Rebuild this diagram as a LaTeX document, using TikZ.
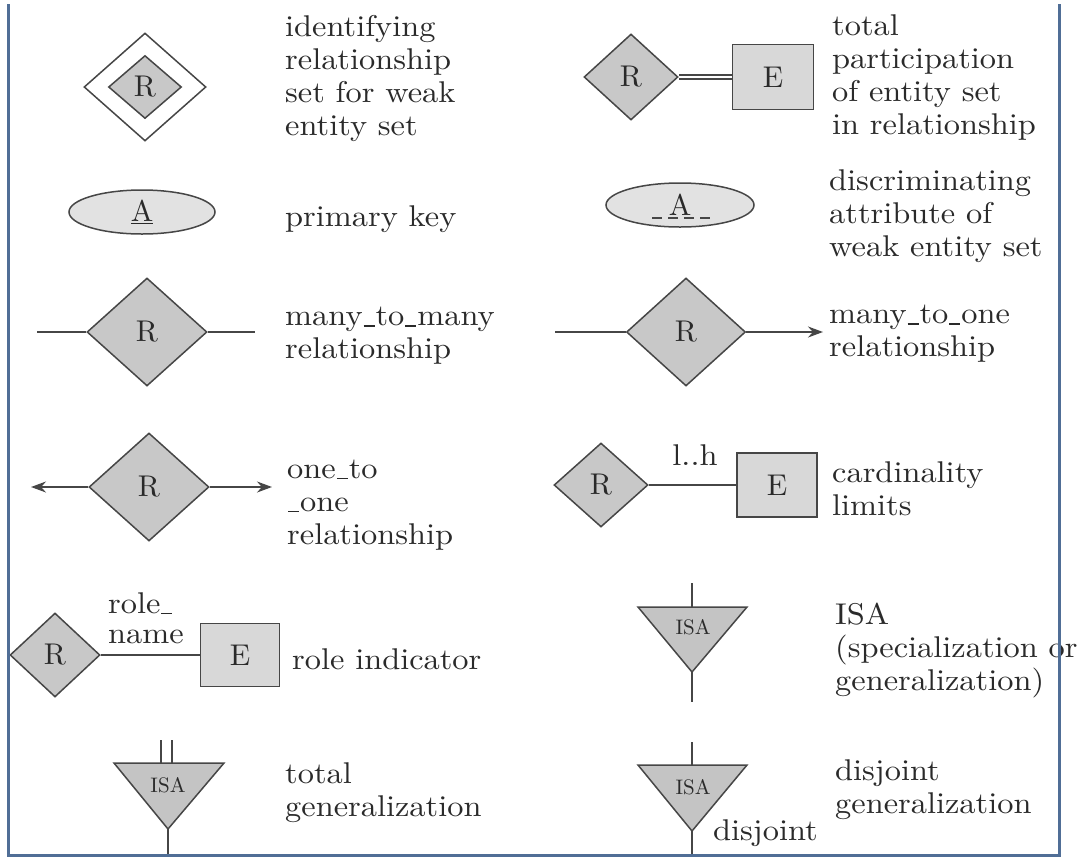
\documentclass[tikz,border=0pt]{standalone}
\usepackage{fontspec}
\setmainfont{lmroman10-regular}[Extension=.otf, FakeStretch=1.08]
\newfontfamily\plainlm{lmroman10-regular}[Extension=.otf]
\usetikzlibrary{shapes.geometric,arrows.meta}
% short baseline dash used in the relationship names
\newcommand{\lowdash}{\kern1pt\rule[-1pt]{11pt}{1.6pt}\kern1pt}
\definecolor{ink}{RGB}{42,42,42}
\definecolor{edge}{RGB}{70,70,70}
\definecolor{relfill}{RGB}{200,200,200}
\definecolor{entfill}{RGB}{216,216,216}
\definecolor{attrfill}{RGB}{226,226,226}
\definecolor{isafill}{RGB}{196,196,196}
\definecolor{framecol}{RGB}{80,110,150}
\tikzset{
  lbl/.style={font=\fontsize{30}{33}\selectfont, text=ink, inner sep=0pt, align=left, anchor=west},
  tag/.style={font=\fontsize{30}{33}\selectfont, text=ink, inner sep=0pt, align=left},
  rel/.style={diamond, draw=edge, fill=relfill, line width=1.5pt, inner sep=0pt,
              font=\plainlm\fontsize{30}{30}\selectfont, text=ink},
  ent/.style={rectangle, draw=edge, fill=entfill, line width=1.8pt, inner sep=0pt,
              font=\plainlm\fontsize{30}{30}\selectfont, text=ink},
  attr/.style={ellipse, draw=edge, fill=attrfill, line width=1.5pt, inner sep=0pt,
               font=\plainlm\fontsize{30}{30}\selectfont, text=ink},
  conn/.style={draw=edge, line width=1.5pt},
  tip/.style={-{Stealth[length=15pt,width=11pt]}},
  isatri/.style={draw=edge, fill=isafill, line width=1.5pt, line join=miter},
  isalbl/.style={font=\plainlm\fontsize{21}{21}\selectfont, text=ink, inner sep=0pt}
}
\begin{document}
\begin{tikzpicture}[x=1pt,y=-1pt]
\useasboundingbox (0,0) rectangle (1078,860);

% ---------- identifying relationship set ----------
\node[rel, fill=white, minimum width=122, minimum height=108] (idout) at (145,87) {};
\node[rel, minimum width=73, minimum height=63] (idin) at (145,87) {R};
\node[lbl] (idtxt) at (285,78) {identifying\\relationship\\set for weak\\entity set};

% ---------- primary key ----------
\node[attr, minimum width=146, minimum height=44] (pk) at (142,212) {\underline{A}};
\node[lbl] (pktxt) at (285,219) {primary key};

% ---------- many-to-many ----------
\node[rel, minimum width=120, minimum height=108] (mm) at (147,332) {R};
\coordinate (mmL) at (37,332);
\coordinate (mmR) at (255,332);
\draw[conn] (mmL) -- (mm.west);
\draw[conn] (mm.east) -- (mmR);
\node[lbl] (mmtxt) at (285,336) {many\lowdash to\lowdash many\\relationship};

% ---------- one-to-one ----------
\node[rel, minimum width=120, minimum height=108] (oo) at (149,487) {R};
\coordinate (ooL) at (31,487);
\coordinate (ooR) at (272,487);
\draw[conn, tip] (oo.west) -- (ooL);
\draw[conn, tip] (oo.east) -- (ooR);
\node[lbl] (ootxt) at (287,505) {one\lowdash to\\\lowdash one\\relationship};

% ---------- role indicator ----------
\node[rel, minimum width=90, minimum height=84] (ri) at (55,655) {R};
\node[ent, minimum width=79, minimum height=63] (riE) at (240,655) {E};
\draw[conn] (ri.east) -- (riE.west);
\node[lbl] (rolename) at (108,618) {role\lowdash\\[-3pt]name};
\node[lbl] (ritxt) at (292,659) {role indicator};

% ---------- total generalization ----------
\coordinate (tgTop) at (166.5,740);
\coordinate (tgMid) at (166.5,763);
\draw[conn, double, double distance=9.5pt] (tgTop) -- (tgMid);
\coordinate (tgA) at (114,763);
\coordinate (tgB) at (224,763);
\coordinate (tgC) at (168,829);
\coordinate (tgEnd) at (168,855);
\draw[isatri] (tgA) -- (tgB) -- (tgC) -- cycle;
\draw[conn] (tgC) -- (tgEnd);
\node[isalbl] (tgisa) at (168,785) {ISA};
\node[lbl] (tgtxt) at (285,793) {total\\generalization};

% ---------- total participation ----------
\node[rel, minimum width=94, minimum height=86] (tp) at (631,77) {R};
\node[ent, minimum width=81, minimum height=65] (tpE) at (773,77) {E};
\draw[conn, double, double distance=2.5pt] (tp.east) -- (tpE.west);
\node[lbl] (tptxt) at (832,77) {total\\participation\\of entity set\\in relationship};

% ---------- discriminating attribute ----------
\node[attr, minimum width=148, minimum height=44] (dk) at (680,205) {A};
\draw[draw=edge, line width=1.5pt, dash pattern=on 10pt off 6pt]
  ([shift={(-28,13)}]dk.center) -- ([shift={(30,13)}]dk.center);
\node[lbl] (dktxt) at (829,216) {discriminating\\attribute of\\weak entity set};

% ---------- many-to-one ----------
\node[rel, minimum width=119, minimum height=108] (mo) at (686,332) {R};
\coordinate (moL) at (555,332);
\coordinate (moR) at (823,332);
\draw[conn] (moL) -- (mo.west);
\draw[conn, tip] (mo.east) -- (moR);
\node[lbl] (motxt) at (829,334) {many\lowdash to\lowdash one\\relationship};

% ---------- cardinality limits ----------
\node[rel, minimum width=94, minimum height=84] (cl) at (601,485) {R};
\node[ent, minimum width=80, minimum height=64] (clE) at (777,485) {E};
\draw[conn] (cl.east) -- (clE.west);
\node[tag] (lh) at (695,455) {l..h};
\node[lbl] (cltxt) at (832,489) {cardinality\\limits};

% ---------- ISA ----------
\coordinate (isTop) at (692,583);
\coordinate (isA) at (638,607);
\coordinate (isB) at (747,607);
\coordinate (isC) at (692,672);
\coordinate (isEnd) at (692,702);
\draw[conn] (isTop) -- (692,607);
\draw[isatri] (isA) -- (isB) -- (isC) -- cycle;
\draw[conn] (isC) -- (isEnd);
\node[isalbl] (isisa) at (693,627) {ISA};
\node[lbl] (istxt) at (835,650) {ISA\\(specialization or\\generalization)};

% ---------- disjoint generalization ----------
\coordinate (djTop) at (692,742);
\coordinate (djA) at (638,765);
\coordinate (djB) at (747,765);
\coordinate (djC) at (692,831);
\coordinate (djEnd) at (692,855);
\draw[conn] (djTop) -- (692,765);
\draw[isatri] (djA) -- (djB) -- (djC) -- cycle;
\draw[conn] (djC) -- (djEnd);
\node[isalbl] (djisa) at (693,787) {ISA};
\node[lbl] (djlbl) at (713,833) {disjoint};
\node[lbl] (djtxt) at (835,790) {disjoint\\generalization};

% ---------- frame ----------
\draw[framecol, line width=3pt] (8,4) -- (8,855) -- (1059,855) -- (1059,4);
\end{tikzpicture}
\end{document}
